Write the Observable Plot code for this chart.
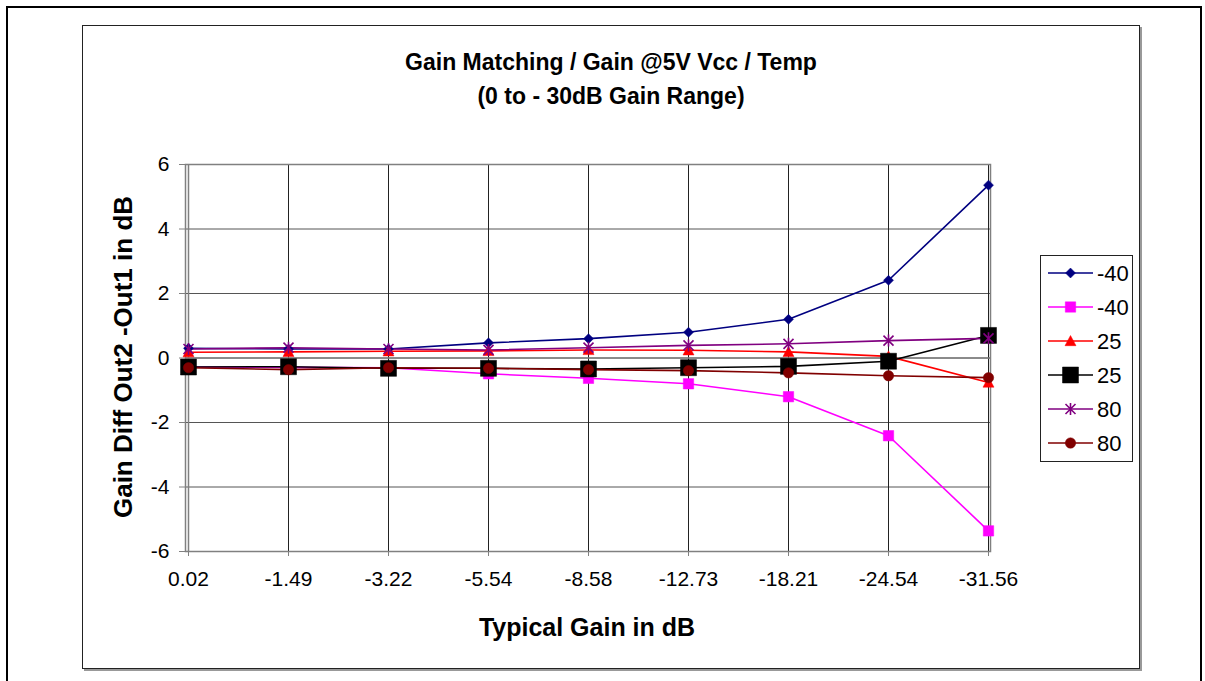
<!DOCTYPE html>
<html>
<head>
<meta charset="utf-8">
<script src="https://cdn.jsdelivr.net/npm/d3@7"></script>
<script src="https://cdn.jsdelivr.net/npm/@observablehq/plot@0.6"></script>
<style>
  html, body { margin: 0; padding: 0; background: #fff; }
  #wrap { position: relative; width: 1205px; height: 681px; overflow: hidden; font-family: "Liberation Sans", Arial, sans-serif; }
  #outer { position: absolute; left: 6px; top: 6px; width: 1192px; height: 720px; border: 2px solid #000; border-bottom: none; }
  #inner { position: absolute; left: 82px; top: 25px; width: 1056px; height: 642px; border: 1px solid #222; box-shadow: 2px 2px 0 #999; }
  #chart, #overlay, #legend { position: absolute; left: 0; top: 0; }
</style>
</head>
<body>
<div id="wrap">
  <div id="outer"></div>
  <div id="inner"></div>
  <div id="chart"></div>
  <svg id="overlay" width="1205" height="681" style="pointer-events:none">
    <g font-family="Liberation Sans, Arial, sans-serif" font-weight="bold" fill="#000" text-anchor="middle">
      <text x="611" y="70" font-size="23">Gain Matching / Gain @5V Vcc / Temp</text>
      <text x="611" y="104" font-size="23">(0 to - 30dB Gain Range)</text>
      <text x="587" y="636" font-size="25">Typical Gain in dB</text>
      <text transform="translate(132,357) rotate(-90)" font-size="26">Gain Diff Out2 -Out1 in dB</text>
    </g>
  </svg>
  <div id="legend"></div>
</div>
<script>
// ---- Data ----
const categories = ["0.02", "-1.49", "-3.22", "-5.54", "-8.58", "-12.73", "-18.21", "-24.54", "-31.56"];
const yTicks = [-6, -4, -2, 0, 2, 4, 6];

const seriesNames = ["-40", "-40", "25", "25", "80", "80"];
const seriesColors = ["#000080", "#FF00FF", "#FF0000", "#000000", "#800080", "#800000"];

const blueM40    = [0.30, 0.28, 0.28, 0.47, 0.60, 0.80, 1.20, 2.41, 5.36];
const magentaM40 = [-0.28, -0.29, -0.30, -0.49, -0.63, -0.80, -1.20, -2.41, -5.36];
const red25      = [0.18, 0.19, 0.21, 0.22, 0.25, 0.24, 0.19, 0.05, -0.76];
const black25    = [-0.28, -0.27, -0.32, -0.32, -0.34, -0.30, -0.26, -0.10, 0.70];
const purple80   = [0.28, 0.32, 0.28, 0.25, 0.32, 0.39, 0.44, 0.54, 0.61];
const brown80    = [-0.30, -0.36, -0.30, -0.32, -0.36, -0.39, -0.46, -0.55, -0.61];

const seriesValues = [blueM40, magentaM40, red25, black25, purple80, brown80];

// ---- Marker symbols ----
const rOf = size => Math.sqrt(size / Math.PI);
const diamondSym = { draw(c, size) { const r = rOf(size); c.moveTo(0, -r); c.lineTo(r, 0); c.lineTo(0, r); c.lineTo(-r, 0); c.closePath(); } };
const squareSym = { draw(c, size) { const r = rOf(size); c.moveTo(-r, -r); c.lineTo(r, -r); c.lineTo(r, r); c.lineTo(-r, r); c.closePath(); } };
const triangleSym = { draw(c, size) { const r = rOf(size); c.moveTo(0, -r); c.lineTo(r, r * 0.85); c.lineTo(-r, r * 0.85); c.closePath(); } };
const starSym = { draw(c, size) { const r = rOf(size); c.moveTo(-r, -r); c.lineTo(r, r); c.moveTo(r, -r); c.lineTo(-r, r); c.moveTo(0, -r * 1.2); c.lineTo(0, r * 1.2); } };
const circleSym = { draw(c, size) { const r = rOf(size); c.moveTo(r, 0); c.arc(0, 0, r, 0, 2 * Math.PI); } };

const markers = [
  { sym: diamondSym, r: 5, filled: true },
  { sym: squareSym, r: 5.2, filled: true },
  { sym: triangleSym, r: 5.5, filled: true },
  { sym: squareSym, r: 8, filled: true },
  { sym: starSym, r: 5, filled: false },
  { sym: circleSym, r: 5.2, filled: true }
];

const series = seriesValues.map((vals, i) => ({
  name: seriesNames[i],
  color: seriesColors[i],
  marker: markers[i],
  data: vals.map((v, j) => ({ cat: categories[j], v }))
}));

// ---- Plot ----
const marks = [
  Plot.gridY(yTicks, { stroke: "#555", strokeOpacity: 1, strokeWidth: 1 }),
  Plot.gridX(categories, { stroke: "#222", strokeOpacity: 1, strokeWidth: 1 }),
  Plot.frame({ stroke: "#808080", strokeWidth: 1.5 }),
  Plot.ruleY([0], { stroke: "#808080", strokeWidth: 1.5 }),
  Plot.ruleX([categories[0]], { stroke: "#808080", strokeWidth: 1.5 }),
  Plot.axisX(categories, { tickSize: 5, tickPadding: 15, stroke: "#808080", fill: "#000", fontSize: 21, label: null }),
  Plot.axisY(yTicks, { tickSize: 6, tickPadding: 10, stroke: "#808080", fill: "#000", fontSize: 21, label: null, tickFormat: d => String(d) })
];
for (const s of series) {
  marks.push(Plot.line(s.data, { x: "cat", y: "v", stroke: s.color, strokeWidth: 1.6 }));
}
for (const s of series) {
  marks.push(Plot.dot(s.data, {
    x: "cat", y: "v", symbol: s.marker.sym, r: s.marker.r,
    fill: s.marker.filled ? s.color : "none",
    stroke: s.color, strokeWidth: s.marker.filled ? 0.5 : 1.6
  }));
}

const chart = Plot.plot({
  width: 1205,
  height: 681,
  marginLeft: 185,
  marginRight: 215,
  marginTop: 164,
  marginBottom: 130,
  style: { background: "transparent", fontFamily: "Liberation Sans, Arial, sans-serif", fontSize: "21px", color: "#000" },
  x: { type: "point", domain: categories, padding: 0, label: null },
  y: { domain: [-6, 6], label: null },
  marks
});
document.getElementById("chart").appendChild(chart);

// ---- Legend ----
const lg = d3.select("#legend").append("svg")
  .attr("width", 1205).attr("height", 681);
lg.append("rect").attr("x", 1040.5).attr("y", 255.5).attr("width", 92).attr("height", 206)
  .attr("fill", "#fff").attr("stroke", "#222").attr("stroke-width", 1);
series.forEach((s, i) => {
  const cy = 273 + i * 34;
  lg.append("line").attr("x1", 1048).attr("x2", 1093).attr("y1", cy).attr("y2", cy)
    .attr("stroke", s.color).attr("stroke-width", 1.6);
  const p = d3.path();
  s.marker.sym.draw(p, Math.PI * s.marker.r * s.marker.r);
  lg.append("path").attr("d", p.toString())
    .attr("transform", `translate(1070.5,${cy})`)
    .attr("fill", s.marker.filled ? s.color : "none")
    .attr("stroke", s.color).attr("stroke-width", s.marker.filled ? 0.5 : 1.6);
  lg.append("text").attr("x", 1097).attr("y", cy + 8)
    .attr("font-family", "Liberation Sans, Arial, sans-serif").attr("font-size", 22)
    .attr("fill", "#000").text(s.name);
});
</script>
</body>
</html>
